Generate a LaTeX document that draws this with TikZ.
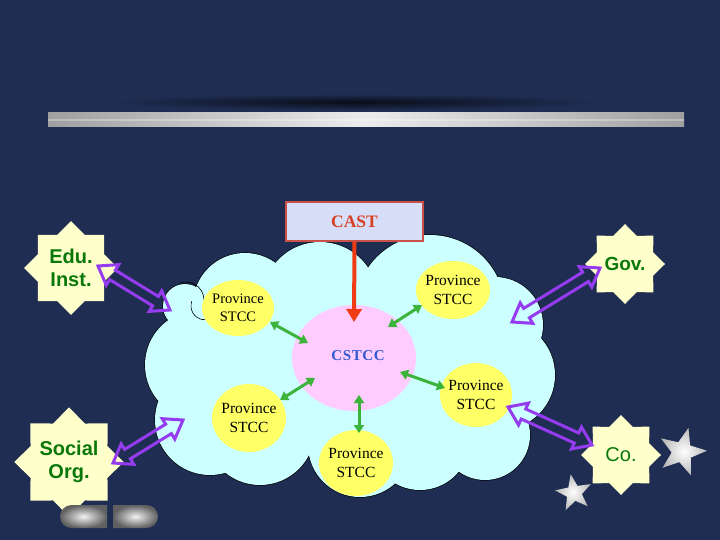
\documentclass[tikz,border=0pt]{standalone}
\usepackage{fontspec}
\setmainfont{Liberation Serif}
\setsansfont{Liberation Sans}
\usetikzlibrary{shapes.geometric,arrows.meta,calc}
\definecolor{bg}{RGB}{31,45,82}
\definecolor{cloudc}{RGB}{204,255,255}
\definecolor{cpink}{RGB}{255,204,255}
\definecolor{pyellow}{RGB}{255,255,102}
\definecolor{starfill}{RGB}{255,255,204}
\definecolor{purp}{RGB}{150,60,240}
\definecolor{grn}{RGB}{60,180,60}
\definecolor{gtext}{RGB}{10,120,10}
\definecolor{castfill}{RGB}{215,222,248}
\definecolor{castline}{RGB}{200,80,70}
\definecolor{casttext}{RGB}{215,65,35}
\definecolor{redarrow}{RGB}{240,60,20}
\definecolor{ctext}{RGB}{50,90,210}
\newcommand\hollowdouble[2]{%
 \coordinate (#1-h) at ($(#1)!17pt!(#2)$);
 \coordinate (#2-h) at ($(#2)!17pt!(#1)$);
 \draw[parrow] (#1) -- ($(#1-h)!12pt!90:(#2)$) -- ($(#1-h)!5.5pt!90:(#2)$) -- ($(#2-h)!5.5pt!-90:(#1)$) -- ($(#2-h)!12pt!-90:(#1)$) -- (#2) -- ($(#2-h)!12pt!90:(#1)$) -- ($(#2-h)!5.5pt!90:(#1)$) -- ($(#1-h)!5.5pt!-90:(#2)$) -- ($(#1-h)!12pt!-90:(#2)$) -- cycle;}
\begin{document}
\begin{tikzpicture}[x=1pt,y=-1pt,
  prov/.style={ellipse, fill=pyellow, align=center, font=\fontsize{15.5}{19}\selectfont, inner sep=-8pt},
  burst/.style={star, star points=8, star point ratio=1.31, fill=starfill, inner sep=0pt, text=gtext, align=center},
  parrow/.style={draw=purp, line width=3pt, line join=miter},
  garrow/.style={draw=grn, line width=3pt, {Triangle[length=8pt,width=10pt]}-{Triangle[length=8pt,width=10pt]}},
  silver/.style={star, star points=5, star point ratio=2.4, inner color=white, outer color=gray!55, shading=radial, inner sep=0pt}]
\useasboundingbox (0,0) rectangle (720,540);
\fill[bg] (0,0) rectangle (720,540);
% top decoration
\shade[inner color=black!70!bg, outer color=bg] (355,102) ellipse [x radius=245, y radius=8];
\shade[left color=gray!75, right color=gray!75, middle color=gray!15] (48,113) rectangle (684,127);
\fill[white, opacity=0.3] (48,119) rectangle (684,121);
% cloud
\foreach \x/\y/\r in {185/306/22, 245/305/52, 320/300/58, 430/310/75, 495/325/48, 500/375/55, 485/435/45, 420/440/50, 360/445/52, 260/430/55, 210/420/55, 200/365/55}
  \draw[line width=1.3pt, black] (\x,\y) circle[radius=\r];
\fill[cloudc] (350,370) ellipse [x radius=150, y radius=80];
\foreach \x/\y/\r in {185/306/22, 245/305/52, 320/300/58, 430/310/75, 495/325/48, 500/375/55, 485/435/45, 420/440/50, 360/445/52, 260/430/55, 210/420/55, 200/365/55}
  \fill[cloudc] (\x,\y) circle[radius=\r];
\draw[line width=0.6pt] (204,300) arc[start angle=0, end angle=-110, radius=18];
\draw[line width=0.6pt] (212,318) arc[start angle=60, end angle=200, radius=14];
% center
\node[ellipse, fill=cpink, minimum width=124pt, minimum height=106pt, inner sep=0pt] (c) at (354,358) {};
\node[text=ctext, font=\fontsize{15}{16}\selectfont\bfseries] at (358,356) {C\kern0.6pt S\kern0.6pt T\kern0.6pt C\kern0.6pt C};
% provinces
\node[prov, minimum width=72pt, minimum height=56pt, font=\fontsize{14.5}{18}\selectfont] (p1) at (238,308) {Province\\STCC};
\node[prov, minimum width=74pt, minimum height=58pt] (p2) at (453,290) {Province\\STCC};
\node[prov, minimum width=72pt, minimum height=64pt] (p3) at (476,395) {Province\\STCC};
\node[prov, minimum width=74pt, minimum height=68pt] (p4) at (249,418) {Province\\STCC};
\node[prov, minimum width=74pt, minimum height=66pt] (p5) at (356,463) {Province\\STCC};
% green arrows
\coordinate (g1a) at (270,322); \coordinate (g1b) at (308,343);
\coordinate (g2a) at (422,305); \coordinate (g2b) at (388,327);
\coordinate (g3a) at (445,388); \coordinate (g3b) at (400,372);
\coordinate (g4a) at (280,400); \coordinate (g4b) at (315,378);
\coordinate (g5a) at (359,433); \coordinate (g5b) at (359,395);
\draw[garrow] (g1a) -- (g1b);
\draw[garrow] (g2a) -- (g2b);
\draw[garrow] (g3a) -- (g3b);
\draw[garrow] (g4a) -- (g4b);
\draw[garrow] (g5a) -- (g5b);
% CAST
\node[draw=castline, line width=1.2pt, fill=castfill, minimum width=137pt, minimum height=39pt, text=casttext, font=\fontsize{17.5}{18}\selectfont\bfseries] (cast) at (354.5,221.5) {CAST};
\coordinate (redtip) at (354,322);
\draw[redarrow, line width=4pt, -{Triangle[length=13pt,width=15pt]}] (cast.south) -- (redtip);
% outside actors
\node[burst, minimum size=94pt, font=\fontsize{20}{23}\selectfont\sffamily\bfseries] (edu) at (71,268) {Edu.\\Inst.};
\node[burst, minimum size=80pt, font=\fontsize{19}{22}\selectfont\sffamily\bfseries] (gov) at (625,264) {Gov.};
\node[burst, minimum size=92pt, font=\fontsize{20}{23}\selectfont\sffamily\bfseries] (soc) at (69,462) {Social\\Org.};
\node[burst, minimum size=80pt, font=\fontsize{20}{22}\selectfont\sffamily] (co) at (621,455) {Co.};
% purple double arrows
\coordinate (e1) at (98,266); \coordinate (e2) at (170,310);
\coordinate (v1) at (600,268); \coordinate (v2) at (512,322);
\coordinate (s1) at (113,463); \coordinate (s2) at (183,420);
\coordinate (o1) at (592,445); \coordinate (o2) at (508,407);
\hollowdouble{e1}{e2}
\hollowdouble{v1}{v2}
\hollowdouble{s1}{s2}
\hollowdouble{o1}{o2}
% silver stars
\node[silver, minimum size=50pt, rotate=-15] (st1) at (682,452) {};
\node[silver, minimum size=38pt, rotate=10] (st2) at (574,493) {};
% buttons
\shade[inner color=gray!10, outer color=gray!75!black] (107,505) -- (71.5,505) arc[start angle=270, end angle=90, radius=11.5] -- (107,528) -- cycle;
\shade[inner color=gray!10, outer color=gray!75!black] (113,505) -- (146.5,505) arc[start angle=-90, end angle=90, radius=11.5] -- (113,528) -- cycle;
\end{tikzpicture}
\end{document}
